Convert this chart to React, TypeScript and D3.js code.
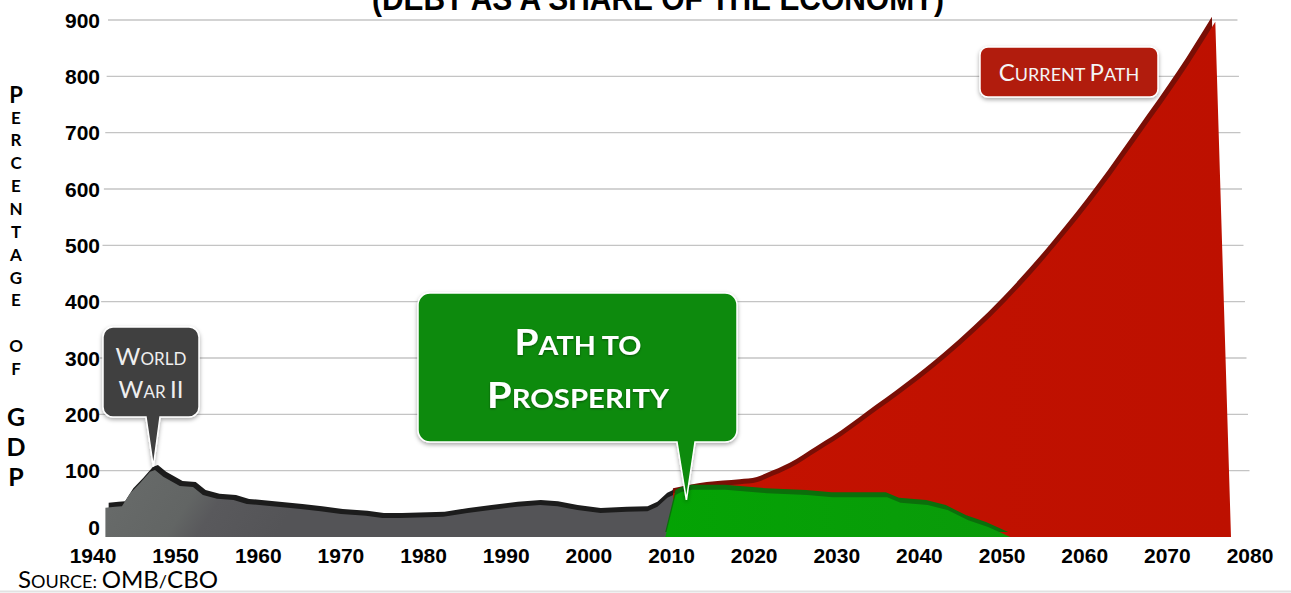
import React, { useEffect } from "react";
import * as d3 from "d3";

// Debt held by the public, % of GDP
const histYears = [1941.5, 1942.7, 1943.5, 1944.5, 1945.7, 1946.9, 1947.5, 1948.5, 1950.5, 1952.1, 1953.3, 1955, 1957, 1958.6, 1962.3, 1965.1, 1967.5, 1970, 1973, 1975, 1977.2, 1982.4, 1985.3, 1988.1, 1991.3, 1994.1, 1996.2, 1998.6, 2001.4, 2004.6, 2007.1, 2008.3, 2009.5, 2010.2];
const histValues = [34, 36, 37, 60, 78, 98, 101, 89, 73, 71, 57, 50, 48, 41, 36, 32, 28, 23, 20, 16, 16, 18, 25, 30, 36, 39, 37, 30, 25, 27, 28, 36, 52, 57];

const prosperityYears = [2010.5, 2011.2, 2012.5, 2016.5, 2021.5, 2026.4, 2029.5, 2036.1, 2037.7, 2041, 2043.4, 2045.9, 2048.3];
const prosperityValues = [57, 62, 66, 66, 60, 57, 53, 53, 43, 39, 30, 12, 0];

const currentYears = [2010.2, 2014.3, 2018.3, 2020.4, 2021.6, 2024.4, 2027.7, 2029.6, 2033.8, 2043.1, 2050.4, 2056.5, 2061.9, 2066.8, 2071.6, 2075.8];
const currentValues = [60, 71, 76, 80, 87, 105, 135, 152, 196, 300, 400, 500, 600, 700, 800, 897];

// where each series meets the chart floor
const prosperityEdges = [2009.25, 2051];
const currentEdges = [2009.3, 2077.7];
const histEdges = [1941.5, 2010.2];

const yearTicks = d3.range(1940, 2081, 10);
const valueTicks = d3.range(100, 901, 100);
const yTitle = [
  { ch: "P", size: 22, y: 95 },
  { ch: "E", size: 17, y: 118 },
  { ch: "R", size: 17, y: 140 },
  { ch: "C", size: 17, y: 163 },
  { ch: "E", size: 17, y: 186 },
  { ch: "N", size: 17, y: 209 },
  { ch: "T", size: 17, y: 232 },
  { ch: "A", size: 17, y: 255 },
  { ch: "G", size: 17, y: 278 },
  { ch: "E", size: 17, y: 300 },
  { ch: "O", size: 17, y: 346 },
  { ch: "F", size: 17, y: 369 },
  { ch: "G", size: 25, y: 417 },
  { ch: "D", size: 25, y: 447 },
  { ch: "P", size: 25, y: 477 },
];

const W = 1291;
const H = 593;
const x = d3.scaleLinear([1940, 2080], [93, 1250]);
const y = d3.scaleLinear([0, 900], [527, 20]);
const floorY = y(0) + 10; // 3D floor sits a little under the zero line

// 3D back face: pulled toward the centre and up
const depthK = 0.006;
const depthCx = 650;
const depthDy = -5;

type Pt = [number, number];

function pts(years: number[], values: number[]) {
  return years.map((yr, i) => [x(yr), y(values[i])] as Pt);
}

function areaPath(p: Pt[], edges: number[], curve: d3.CurveFactory, back = false) {
  let poly: Pt[] = [[x(edges[0]), floorY], ...p, [x(edges[1]), floorY]];
  if (back) poly = poly.map(([px, py]) => [px + depthK * (depthCx - px), py + depthDy] as Pt);
  const top = d3.line().curve(curve)(poly.slice(1, -1)) as string;
  const [x0, y0] = poly[0];
  const [x1, y1] = poly[poly.length - 1];
  return `M${x0},${y0}L` + top.slice(1) + `L${x1},${y1}Z`;
}

function callout(bx: number, by: number, bw: number, bh: number, r: number, tip?: { l: number; rr: number; x: number; y: number }) {
  const p = d3.path();
  p.moveTo(bx + r, by);
  p.lineTo(bx + bw - r, by);
  p.arcTo(bx + bw, by, bx + bw, by + r, r);
  p.lineTo(bx + bw, by + bh - r);
  p.arcTo(bx + bw, by + bh, bx + bw - r, by + bh, r);
  if (tip) {
    p.lineTo(tip.rr, by + bh);
    p.lineTo(tip.x, tip.y);
    p.lineTo(tip.l, by + bh);
  }
  p.lineTo(bx + r, by + bh);
  p.arcTo(bx, by + bh, bx, by + bh - r, r);
  p.lineTo(bx, by + r);
  p.arcTo(bx, by, bx + r, by, r);
  p.closePath();
  return p.toString();
}

// capitals big, lower case drawn as small capitals
function SmallCaps({ text, big, small }: { text: string; big: number; small: number }) {
  const parts: { s: string; up: boolean }[] = [];
  for (const ch of text) {
    const up = ch === ch.toUpperCase() && ch !== ch.toLowerCase();
    const last = parts[parts.length - 1];
    if (last && last.up === up) last.s += ch;
    else parts.push({ s: ch, up });
  }
  return (
    <>
      {parts.map((p, i) => (
        <tspan key={i} fontSize={p.up ? big : small}>
          {p.s.toUpperCase()}
        </tspan>
      ))}
    </>
  );
}

export default function App() {
  useEffect(() => {
    document.body.style.margin = "0";
  }, []);

  const hist = pts(histYears, histValues);
  const pros = pts(prosperityYears, prosperityValues);
  const curr = pts(currentYears, currentValues);

  const gridLeft = (py: number) => 95.6 + (527 - py) * 0.0245;
  const gridRight = (py: number) => 1251 - (527 - py) * 0.0267;

  const wwTip = { x: x(1947.3), y: y(107) };
  const ptpTip = { x: x(2011.8), y: y(48) };

  return (
    <svg width={W} height={H} style={{ position: "absolute", left: 0, top: 0, background: "#fff" }}>
      <defs>
        <linearGradient id="gHist" gradientUnits="userSpaceOnUse" x1={120} y1={470} x2={260} y2={560}>
          <stop offset="0" stopColor="#686b6a" />
          <stop offset="0.45" stopColor="#626564" />
          <stop offset="0.6" stopColor="#59595c" />
          <stop offset="1" stopColor="#545457" />
        </linearGradient>
        <linearGradient id="gCurr" gradientUnits="userSpaceOnUse" x1={700} y1={0} x2={1230} y2={0}>
          <stop offset="0" stopColor="#c41200" />
          <stop offset="1" stopColor="#bd1000" />
        </linearGradient>
        <linearGradient id="gPros" gradientUnits="userSpaceOnUse" x1={665} y1={0} x2={1010} y2={0}>
          <stop offset="0" stopColor="#04a304" />
          <stop offset="1" stopColor="#0a9a0a" />
        </linearGradient>
        <filter id="shadow" x="-20%" y="-20%" width="140%" height="150%">
          <feDropShadow dx="0" dy="2" stdDeviation="2" floodColor="#000" floodOpacity="0.35" />
        </filter>
        <filter id="tshadow">
          <feDropShadow dx="0" dy="1" stdDeviation="1" floodColor="#000" floodOpacity="0.4" />
        </filter>
      </defs>

      {/* title, cut off by the top edge */}
      <text x={658} y={10} textAnchor="middle" fontFamily="Liberation Sans, Arial, sans-serif" fontWeight="bold" fontSize={34} textLength={572} lengthAdjust="spacingAndGlyphs" fill="#000">
        (DEBT AS A SHARE OF THE ECONOMY)
      </text>

      {/* gridlines */}
      {valueTicks.map((v) => (
        <line key={v} x1={gridLeft(y(v))} x2={gridRight(y(v))} y1={y(v)} y2={y(v)} stroke="#c4c4c4" strokeWidth={1.3} />
      ))}

      {/* y tick labels */}
      {[0, ...valueTicks].map((v) => (
        <text key={v} x={100} y={y(v) + 7.5} textAnchor="end" fontFamily="Liberation Sans, Arial, sans-serif" fontWeight="bold" fontSize={21} fill="#000">
          {v}
        </text>
      ))}

      {/* x tick labels */}
      {yearTicks.map((t) => (
        <text key={t} x={x(t)} y={563} textAnchor="middle" fontFamily="Liberation Sans, Arial, sans-serif" fontWeight="bold" fontSize={21} fill="#000">
          {t}
        </text>
      ))}

      {/* stacked axis title */}
      {yTitle.map((l, i) => (
        <text key={i} x={16} y={l.y + l.size * 0.36} textAnchor="middle" fontFamily="Lato, sans-serif" fontWeight="bold" fontSize={l.size} fill="#000">
          {l.ch}
        </text>
      ))}

      {/* current path */}
      <path d={areaPath(curr, currentEdges, d3.curveMonotoneX, true)} fill="#7a0e05" />
      <path d={areaPath(curr, currentEdges, d3.curveMonotoneX)} fill="url(#gCurr)" />

      {/* history */}
      <path d={areaPath(hist, histEdges, d3.curveLinear, true)} fill="#1c1c1c" />
      <path d={areaPath(hist, histEdges, d3.curveLinear)} fill="url(#gHist)" />

      {/* path to prosperity */}
      <path d={areaPath(pros, prosperityEdges, d3.curveLinear, true)} fill="#0b6f0b" />
      <path d={areaPath(pros, prosperityEdges, d3.curveLinear)} fill="url(#gPros)" />

      {/* callouts */}
      <path
        d={callout(103, 327, 96, 90, 10, { l: 146, rr: 160, x: wwTip.x, y: wwTip.y })}
        fill="#3f3f3f"
        stroke="#fff"
        strokeWidth={1.5}
        filter="url(#shadow)"
      />
      <text x={151} y={365} textAnchor="middle" fontFamily="Lato, sans-serif" fill="#eeeeee">
        <SmallCaps text="World" big={24} small={17} />
      </text>
      <text x={151} y={398} textAnchor="middle" fontFamily="Lato, sans-serif" fill="#eeeeee">
        <SmallCaps text="War II" big={24} small={17} />
      </text>

      <path
        d={callout(418, 293, 319, 149, 12, { l: 677, rr: 695, x: ptpTip.x, y: ptpTip.y })}
        fill="#078a07"
        stroke="#fff"
        strokeWidth={1.5}
        filter="url(#shadow)"
      />
      <text x={578} y={355} textAnchor="middle" fontFamily="Lato, sans-serif" fontWeight="bold" fill="#fff" filter="url(#tshadow)" textLength={127} lengthAdjust="spacingAndGlyphs">
        <SmallCaps text="Path to" big={36} small={26.5} />
      </text>
      <text x={578} y={408} textAnchor="middle" fontFamily="Lato, sans-serif" fontWeight="bold" fill="#fff" filter="url(#tshadow)" textLength={182} lengthAdjust="spacingAndGlyphs">
        <SmallCaps text="Prosperity" big={36} small={26.5} />
      </text>

      <path d={callout(980, 47, 178, 50, 8)} fill="#b11a08" stroke="#fff" strokeWidth={1.5} filter="url(#shadow)" />
      <text x={1069} y={81} textAnchor="middle" fontFamily="Lato, sans-serif" fill="#f4f4f4">
        <SmallCaps text="Current Path" big={24} small={18} />
      </text>

      {/* source */}
      <text x={18} y={588} fontFamily="Lato, sans-serif" fill="#000" textLength={200} lengthAdjust="spacingAndGlyphs">
        <SmallCaps text="Source: OMB/CBO" big={24} small={18} />
      </text>

      <line x1={0} x2={W} y1={591.5} y2={591.5} stroke="#e2e2e2" strokeWidth={2} />
    </svg>
  );
}
